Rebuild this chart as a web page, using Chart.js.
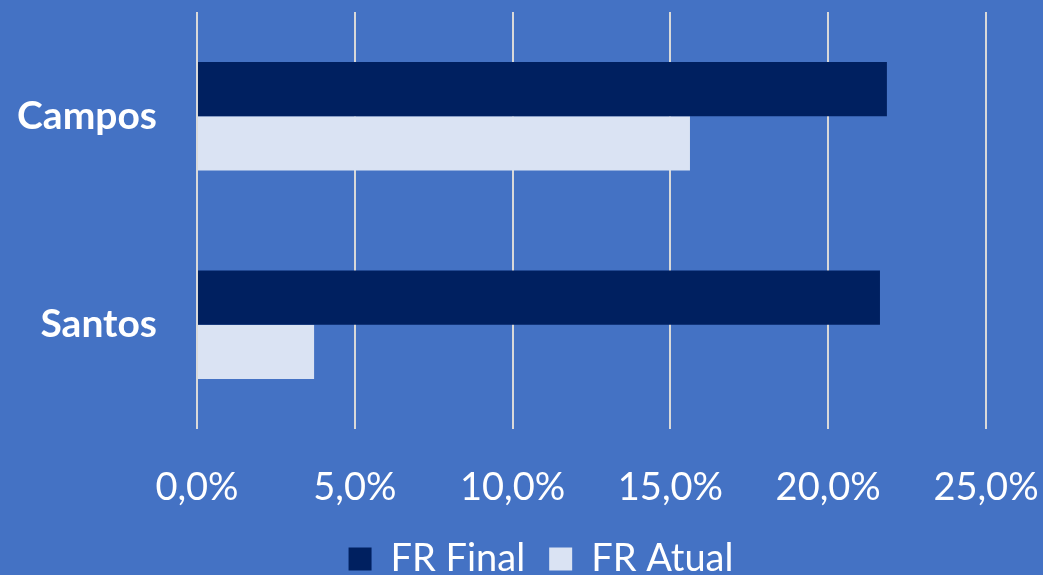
<!DOCTYPE html>
<html>
<head>
<meta charset="utf-8">
<script src="https://cdn.jsdelivr.net/npm/chart.js@4"></script>
<style>
  html, body { margin: 0; padding: 0; background: #4472C4; }
  #wrap { width: 1043px; height: 575px; position: relative; }
</style>
</head>
<body>
<div id="wrap"><canvas id="frChart"></canvas></div>
<script>
// Data
const categories = ['Campos', 'Santos'];
const frFinal = [0.2186, 0.2164];
const frAtual = [0.1562, 0.0371];
const xTicks = [0, 0.05, 0.10, 0.15, 0.20, 0.25];

const ctx = document.getElementById('frChart').getContext('2d');
Chart.defaults.color = '#ffffff';
Chart.defaults.font.family = 'Lato';

// legend in the original sits a bit right of centre
const legendShift = {
    id: 'legendShift',
    afterLayout(chart) {
        chart.legend.left += 96;
    }
};

const frChart = new Chart(ctx, {
    type: 'bar',
    data: {
        labels: categories,
        datasets: [
            {
                label: 'FR Final',
                data: frFinal,
                backgroundColor: '#002060',
                borderWidth: 0
            },
            {
                label: 'FR Atual',
                data: frAtual,
                backgroundColor: '#DAE3F3',
                borderWidth: 0
            }
        ]
    },
    plugins: [legendShift],
    options: {
        indexAxis: 'y',
        responsive: true,
        maintainAspectRatio: false,
        animation: false,
        categoryPercentage: 0.52,
        barPercentage: 1.0,
        layout: { padding: { top: 12, right: 57, left: 0, bottom: -13 } },
        plugins: {
            legend: {
                position: 'bottom',
                labels: {
                    boxWidth: 23,
                    boxHeight: 23,
                    padding: 24,
                    color: '#ffffff',
                    font: { size: 38 }
                }
            },
            tooltip: { enabled: false }
        },
        scales: {
            x: {
                min: 0,
                max: 0.25,
                afterBuildTicks: (axis) => { axis.ticks = xTicks.map(v => ({ value: v })); },
                afterFit: (axis) => {
                    axis.height = 87;
                    axis.paddingRight = 0;
                },
                grid: { color: '#D9D9D9', lineWidth: 2, drawTicks: false },
                border: { display: false },
                ticks: {
                    padding: 36,
                    color: '#ffffff',
                    font: { size: 38 },
                    callback: (v) => (v * 100).toFixed(1).replace('.', ',') + '%'
                }
            },
            y: {
                afterFit: (axis) => {
                    axis.width = 197;
                    axis.paddingTop = 0;
                    axis.paddingBottom = 0;
                },
                grid: { display: false, drawTicks: false },
                border: { display: false },
                ticks: {
                    padding: 40,
                    color: '#ffffff',
                    font: { size: 39, weight: 'bold' }
                }
            }
        }
    }
});
</script>
</body>
</html>
